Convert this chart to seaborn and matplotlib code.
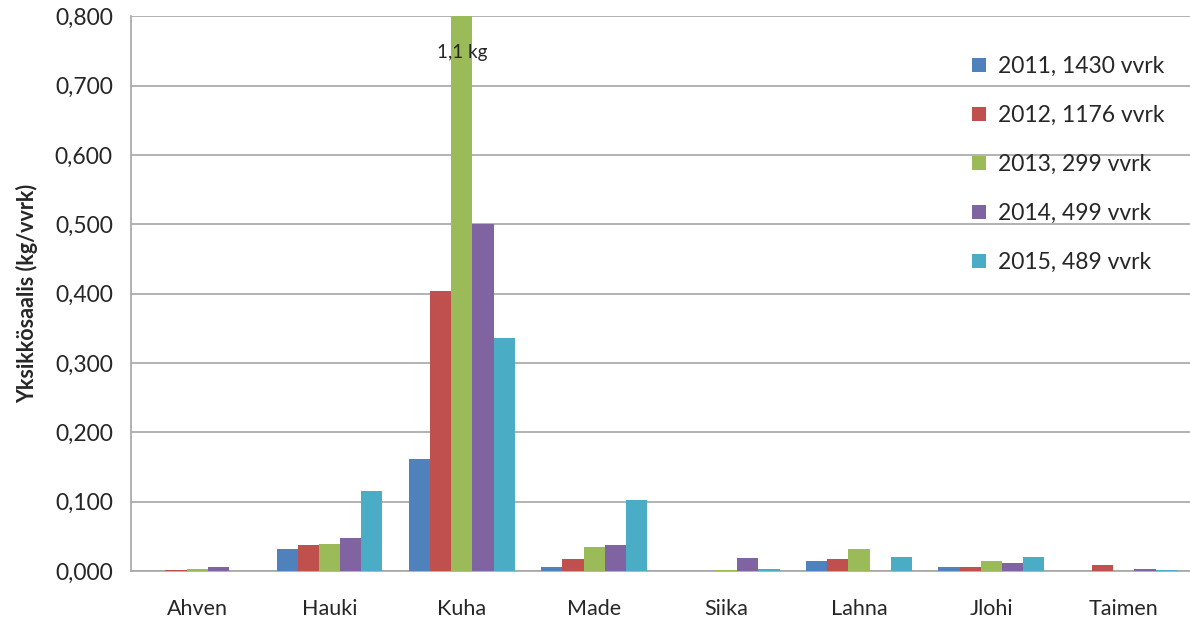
import pandas as pd
import numpy as np
import matplotlib
matplotlib.use('Agg')
import matplotlib.pyplot as plt
import seaborn as sns
from matplotlib.ticker import FuncFormatter, FixedLocator

# Lajit ja yksikkösaaliit (kg/vvrk) vuosittain
lajit = ['Ahven', 'Hauki', 'Kuha', 'Made', 'Siika', 'Lahna', 'Jlohi', 'Taimen']
sarjat = ['2011, 1430 vvrk', '2012, 1176 vvrk', '2013, 299 vvrk',
          '2014, 499 vvrk', '2015, 489 vvrk']
v2011 = [0.000, 0.031, 0.161, 0.006, 0.000, 0.015, 0.005, 0.000]
v2012 = [0.002, 0.037, 0.404, 0.017, 0.000, 0.017, 0.005, 0.008]
v2013 = [0.0035, 0.039, 1.1, 0.034, 0.0015, 0.031, 0.014, 0.000]
v2014 = [0.005, 0.047, 0.500, 0.037, 0.019, 0.000, 0.011, 0.003]
v2015 = [0.000, 0.115, 0.336, 0.102, 0.003, 0.020, 0.020, 0.002]
varit = ['#4F81BD', '#C0504D', '#9BBB59', '#8064A2', '#4BACC6']

rivit = []
for sarja, arvot in zip(sarjat, [v2011, v2012, v2013, v2014, v2015]):
    for laji, arvo in zip(lajit, arvot):
        rivit.append({'laji': laji, 'sarja': sarja, 'arvo': arvo})
df = pd.DataFrame(rivit)

sns.set_style('white')
plt.rcParams['font.family'] = ['Lato', 'DejaVu Sans']

fig = plt.figure(figsize=(11.9, 6.24), dpi=100)
ax = fig.add_axes([0.110, 0.085, 0.890, 0.889])

sns.barplot(data=df, x='laji', y='arvo', hue='sarja', palette=varit,
            width=0.8, saturation=1, linewidth=0, ax=ax, zorder=3)

ax.set_ylim(0, 0.8)
ax.set_xlim(-0.5, 7.5)
ax.set_yticks(np.arange(0, 0.81, 0.1))
ax.yaxis.set_major_formatter(FuncFormatter(lambda v, p: f'{v:.3f}'.replace('.', ',')))
ax.grid(axis='y', color='#A6A6A6', linewidth=1.2, zorder=0)
ax.set_axisbelow(True)

for s in ['top', 'right']:
    ax.spines[s].set_visible(False)
for s in ['left', 'bottom']:
    ax.spines[s].set_color('#A6A6A6')
    ax.spines[s].set_linewidth(1.2)

ax.tick_params(axis='x', which='major', length=0, labelsize=15.5, pad=20)
ax.xaxis.set_minor_locator(FixedLocator(np.arange(0.5, 7.5, 1.0)))
ax.tick_params(axis='x', which='minor', length=7, color='#A6A6A6', width=1.2)
ax.tick_params(axis='y', length=5, color='#A6A6A6', width=1.2, labelsize=16.5, pad=8)

ax.set_xlabel('')
ax.set_ylabel('Yksikkösaalis (kg/vvrk)', fontsize=15.5, fontweight='bold', labelpad=12)

ax.text(2.0, 0.748, '1,1 kg', fontsize=13.5, ha='center', va='center', zorder=5)

ax.legend(title=None, loc='upper right', bbox_to_anchor=(0.995, 0.965), frameon=False,
          fontsize=16.5, handlelength=0.6, handleheight=0.6, labelspacing=1.22,
          handletextpad=0.5)

plt.savefig('out.png', dpi=100)
